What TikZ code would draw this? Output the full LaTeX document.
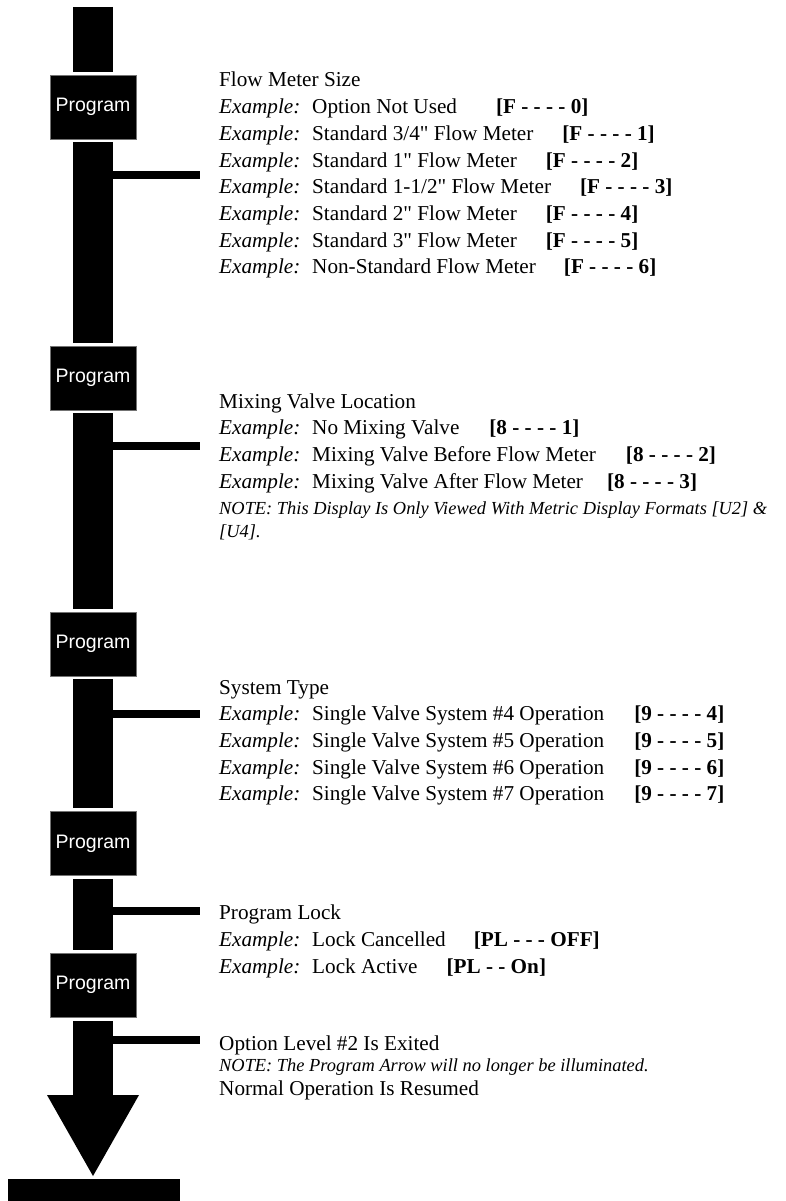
\documentclass[tikz,border=0pt]{standalone}
\usepackage{fontspec}
\setmainfont{Liberation Serif}[Ligatures=TeXOff]
\newfontfamily\labelfont{Liberation Sans}
\usetikzlibrary{calc}

% "Example:" label padded to a fixed width so every description starts in the same column
\newcommand\exlabel{\makebox[93pt][l]{\itshape Example:}}

\begin{document}
\begin{tikzpicture}[x=1pt,y=-1pt,
  progbox/.style={draw=black!55, line width=0.8pt, fill=black, text=white,
    minimum width=86pt, minimum height=64pt, inner sep=0pt,
    font=\labelfont\fontsize{19.5}{20}\selectfont},
  shaft/.style={line width=40pt, black},
  arm/.style={line width=8pt, black},
  txt/.style={anchor=base west, inner sep=0pt, font=\fontsize{21.2}{26}\selectfont},
  note/.style={anchor=base west, inner sep=0pt, font=\fontsize{18.4}{22}\selectfont\itshape},
]
\useasboundingbox (0,0) rectangle (785,1201);
\fill[white] (0,0) rectangle (785,1201);

% Program key boxes along the shaft
\node[progbox] (p1) at (93,107)   {Program};
\node[progbox] (p2) at (93,378)   {Program};
\node[progbox] (p3) at (93,644)   {Program};
\node[progbox] (p4) at (93,843.5) {Program};
\node[progbox] (p5) at (93,985)   {Program};

% shaft pieces between the boxes
\coordinate (top) at (93,7);
\coordinate (headbase) at (93,1095);
\draw[shaft] (top) -- ($(p1.north)+(0,-3)$);
\draw[shaft] ($(p1.south)+(0,3)$) -- ($(p2.north)+(0,-3)$);
\draw[shaft] ($(p2.south)+(0,3)$) -- ($(p3.north)+(0,-3)$);
\draw[shaft] ($(p3.south)+(0,3)$) -- ($(p4.north)+(0,-3)$);
\draw[shaft] ($(p4.south)+(0,3)$) -- ($(p5.north)+(0,-3)$);
\draw[shaft] ($(p5.south)+(0,4)$) -- (headbase);

% arrow head and floor bar
\coordinate (hl) at (47,1095);
\coordinate (hr) at (139,1095);
\coordinate (tip) at (93,1176);
\fill (hl) -- (hr) -- (tip) -- cycle;
\node[fill=black, minimum width=172pt, minimum height=23pt, inner sep=0pt] (floor) at (94,1190.5) {};

% side arms pointing at each text block
\foreach \n/\y in {1/175, 2/445.5, 3/714, 4/911, 5/1040} {
  \coordinate (a\n) at (113,\y);
  \coordinate (e\n) at (200,\y);
  \draw[arm] (a\n) -- (e\n);
}

% Flow meter size
\node[txt] (t1)  at (219,87)    {Flow Meter Size};
\node[txt] (t1a) at (219,113.7) {\exlabel Option Not Used\hspace{39pt}\textbf{[F - - - - 0]}};
\node[txt] (t1b) at (219,140.4) {\exlabel Standard 3/4" Flow Meter\hspace{29pt}\textbf{[F - - - - 1]}};
\node[txt] (t1c) at (219,167.1) {\exlabel Standard 1" Flow Meter\hspace{29pt}\textbf{[F - - - - 2]}};
\node[txt] (t1d) at (219,193.8) {\exlabel Standard 1-1/2" Flow Meter\hspace{29pt}\textbf{[F - - - - 3]}};
\node[txt] (t1e) at (219,220.5) {\exlabel Standard 2" Flow Meter\hspace{29pt}\textbf{[F - - - - 4]}};
\node[txt] (t1f) at (219,247.2) {\exlabel Standard 3" Flow Meter\hspace{29pt}\textbf{[F - - - - 5]}};
\node[txt] (t1g) at (219,273.9) {\exlabel Non-Standard Flow Meter\hspace{28pt}\textbf{[F - - - - 6]}};

% Mixing valve location
\node[txt] (t2)  at (219,408)   {Mixing Valve Location};
\node[txt] (t2a) at (219,434.7) {\exlabel No Mixing Valve\hspace{30pt}\textbf{[8 - - - - 1]}};
\node[txt] (t2b) at (219,461.4) {\exlabel Mixing Valve Before Flow Meter\hspace{30pt}\textbf{[8 - - - - 2]}};
\node[txt] (t2c) at (219,488.1) {\exlabel Mixing Valve After Flow Meter\hspace{24pt}\textbf{[8 - - - - 3]}};
\node[note] (t2n) at (219,514.5) {NOTE: This Display Is Only Viewed With Metric Display Formats [U2] \&};
\node[note] (t2m) at (219,537)   {[U4].};

% System type
\node[txt] (t3)  at (219,694)   {System Type};
\node[txt] (t3a) at (219,720.7) {\exlabel Single Valve System \#4 Operation\hspace{30pt}\textbf{[9 - - - - 4]}};
\node[txt] (t3b) at (219,747.4) {\exlabel Single Valve System \#5 Operation\hspace{30pt}\textbf{[9 - - - - 5]}};
\node[txt] (t3c) at (219,774.1) {\exlabel Single Valve System \#6 Operation\hspace{30pt}\textbf{[9 - - - - 6]}};
\node[txt] (t3d) at (219,800.8) {\exlabel Single Valve System \#7 Operation\hspace{30pt}\textbf{[9 - - - - 7]}};

% Program lock
\node[txt] (t4)  at (219,919) {Program Lock};
\node[txt] (t4a) at (219,946) {\exlabel Lock Cancelled\hspace{28pt}\textbf{[PL - - - OFF]}};
\node[txt] (t4b) at (219,973) {\exlabel Lock Active\hspace{29pt}\textbf{[PL - - On]}};

% Leaving option level 2
\node[txt]  (t5)  at (219,1050) {Option Level \#2 Is Exited};
\node[note] (t5n) at (219,1071) {NOTE: The Program Arrow will no longer be illuminated.};
\node[txt]  (t5b) at (219,1095) {Normal Operation Is Resumed};
\end{tikzpicture}
\end{document}
